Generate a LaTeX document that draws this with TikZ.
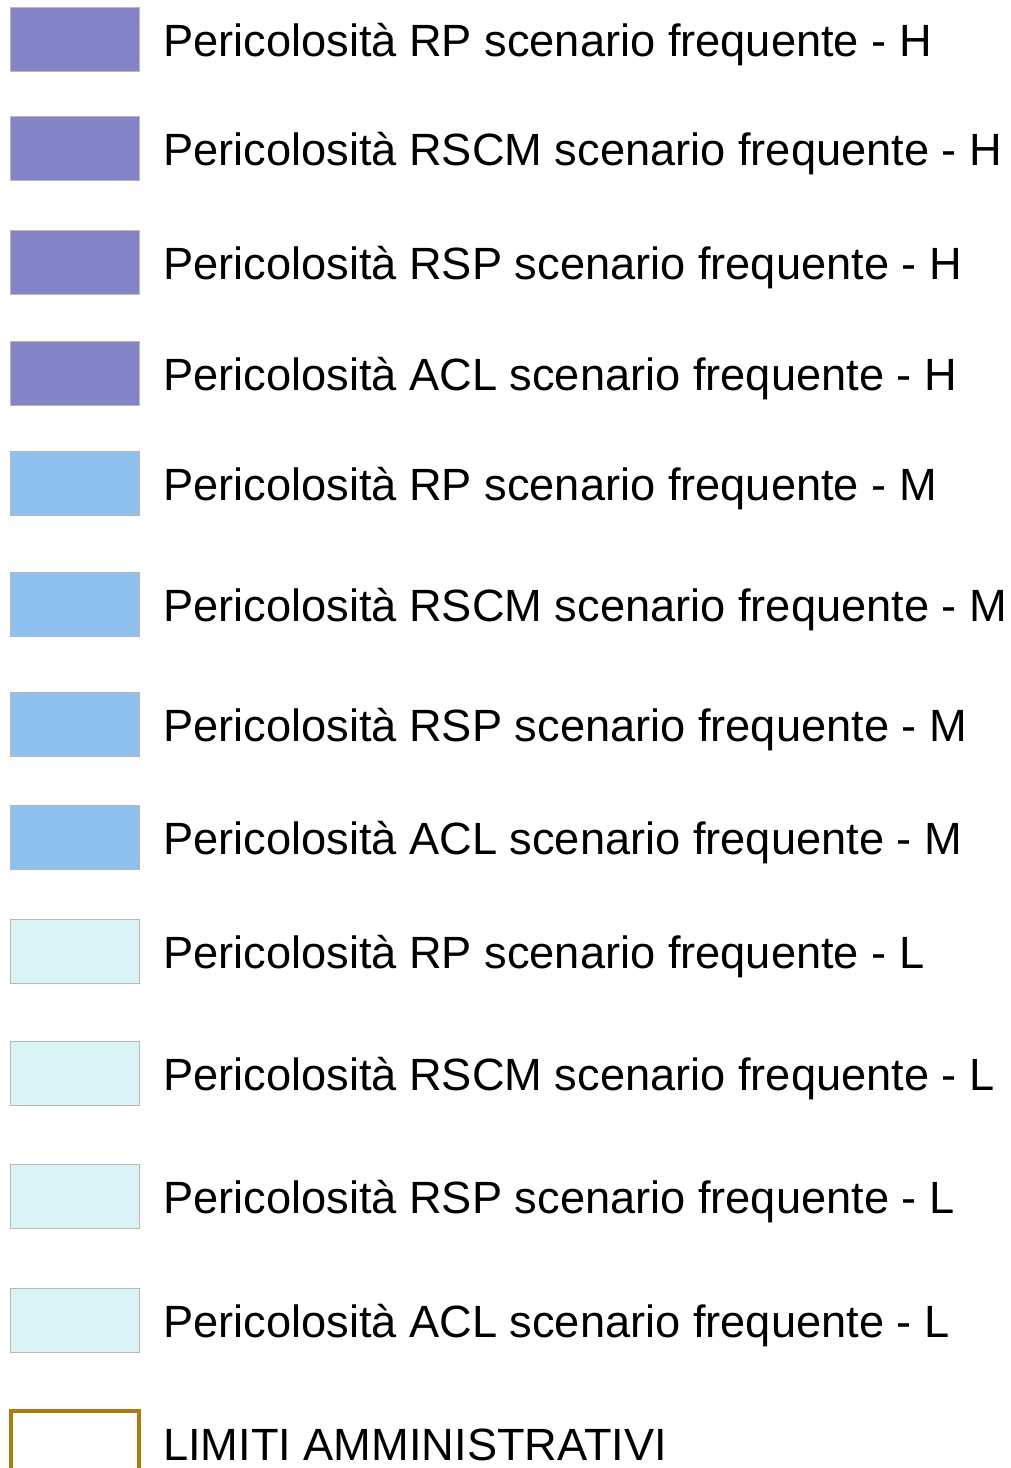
\documentclass[tikz,border=0pt]{standalone}
\usepackage{fontspec}
\setmainfont{Liberation Sans}
\definecolor{hazH}{HTML}{8584C7}
\definecolor{hazM}{HTML}{8FC1EE}
\definecolor{hazL}{HTML}{DAF4F6}
\definecolor{limcol}{HTML}{B07A12}
\tikzset{font={\fontsize{45.2pt}{54pt}\selectfont}}

\begin{document}
\begin{tikzpicture}[x=1pt,y=-1pt,
	swatch/.style={draw=black!28, line width=1.2pt, fill=#1, inner sep=0pt,
		minimum width=129pt, minimum height=64pt, anchor=north west},
	legtext/.style={anchor=base west, inner sep=0pt}]
		\clip (0,0) rectangle (1011,1468);
		%Hazard rows
		\foreach \t/\lab/\col [count=\i] in {
			7/{RP scenario frequente - H}/hazH,
			116/{RSCM scenario frequente - H}/hazH,
			230/{RSP scenario frequente - H}/hazH,
			341/{ACL scenario frequente - H}/hazH,
			451/{RP scenario frequente - M}/hazM,
			572/{RSCM scenario frequente - M}/hazM,
			692/{RSP scenario frequente - M}/hazM,
			805/{ACL scenario frequente - M}/hazM,
			919/{RP scenario frequente - L}/hazL,
			1041/{RSCM scenario frequente - L}/hazL,
			1164/{RSP scenario frequente - L}/hazL,
			1288/{ACL scenario frequente - L}/hazL}
		{
		\node[swatch=\col] (sw\i) at (10,\t) {};
		\node[legtext] (lb\i) at (163,\t+49) {Pericolosità \lab};
		}
		%Administrative limits
		\node[swatch=white, draw=limcol, line width=4pt, minimum width=128pt] (sw13) at (9,1409) {};
		\node[legtext] (lb13) at (163,1460) {LIMITI AMMINISTRATIVI};
\end{tikzpicture}
\end{document}
